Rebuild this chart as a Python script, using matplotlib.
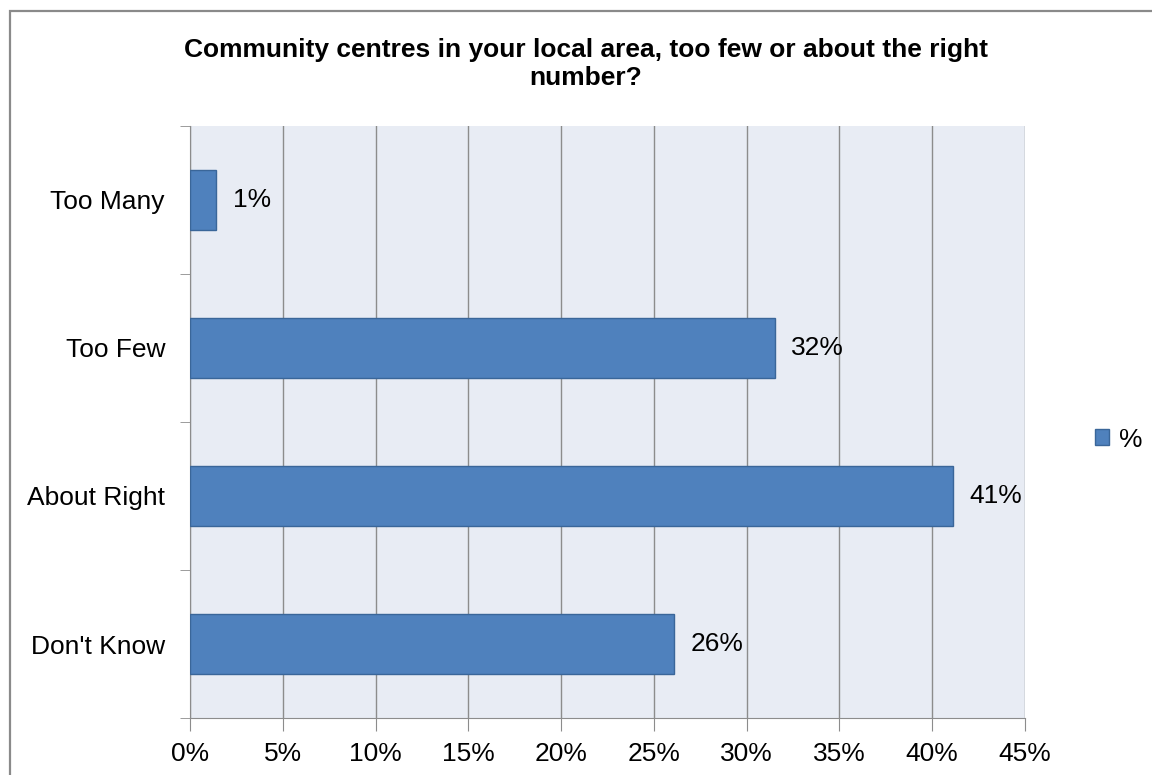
import numpy as np
import matplotlib.pyplot as plt
from matplotlib.patches import Rectangle
from matplotlib.ticker import MultipleLocator, FuncFormatter

# Datos
categorias = ["Don't Know", "About Right", "Too Few", "Too Many"]
valores = [26.1, 41.1, 31.5, 1.4]
etiquetas = ["26%", "41%", "32%", "1%"]
titulo = "Community centres in your local area, too few or about the right\nnumber?"

plt.rcParams['font.family'] = ['Liberation Sans', 'DejaVu Sans']

fig = plt.figure(figsize=(11.52, 7.75), dpi=100)
fig.patch.set_facecolor("white")

# Marco del gráfico (estilo Excel)
fig.patches.append(Rectangle((10 / 1152, -0.1), 1.2, 1 - 11 / 775 + 0.1,
                             transform=fig.transFigure, fill=False,
                             edgecolor="#8a8a8a", linewidth=1.6, zorder=0))

ax = fig.add_axes([190 / 1152, 1 - 718 / 775, 835 / 1152, 592 / 775])
ax.set_facecolor("#e8ecf4")

y = np.arange(len(categorias))
barras = ax.barh(y, valores, height=0.41, color="#4f81bd",
                 edgecolor="#3a6699", linewidth=1.0, zorder=3, label="%")

for b, txt in zip(barras, etiquetas):
    ax.annotate(txt, (b.get_width(), b.get_y() + b.get_height() / 2),
                xytext=(12, 0), textcoords="offset points",
                ha="left", va="center", fontsize=19, color="black")

ax.set_xlim(0, 45)
ax.set_ylim(-0.5, len(categorias) - 0.5)
ax.xaxis.set_major_locator(MultipleLocator(5))
ax.xaxis.set_major_formatter(FuncFormatter(lambda v, p: f"{v:.0f}%"))
ax.grid(axis="x", color="#8c8c8c", linewidth=1.0, zorder=1)

ax.set_yticks(y)
ax.set_yticklabels(categorias, fontsize=19)
ax.set_yticks(np.arange(-0.5, len(categorias), 1), minor=True)
ax.tick_params(axis="y", which="major", length=0, pad=18)
ax.tick_params(axis="y", which="minor", length=7, color="#8c8c8c", direction="out")
ax.tick_params(axis="x", which="major", length=9, color="#8c8c8c",
               direction="out", labelsize=19, pad=8)

for lado in ["top", "right"]:
    ax.spines[lado].set_visible(False)
ax.spines["left"].set_color("#8c8c8c")
ax.spines["bottom"].set_color("#8c8c8c")

fig.text(586 / 1152, 1 - 64 / 775, titulo, ha="center", va="center",
         fontsize=19, fontweight="bold", linespacing=1.2)

ax.legend(loc="center left", bbox_to_anchor=(1.068, 0.47), frameon=False,
          fontsize=19, handlelength=0.55, handleheight=0.55,
          handletextpad=0.35, borderpad=0)

fig.savefig("out.png", dpi=100)
